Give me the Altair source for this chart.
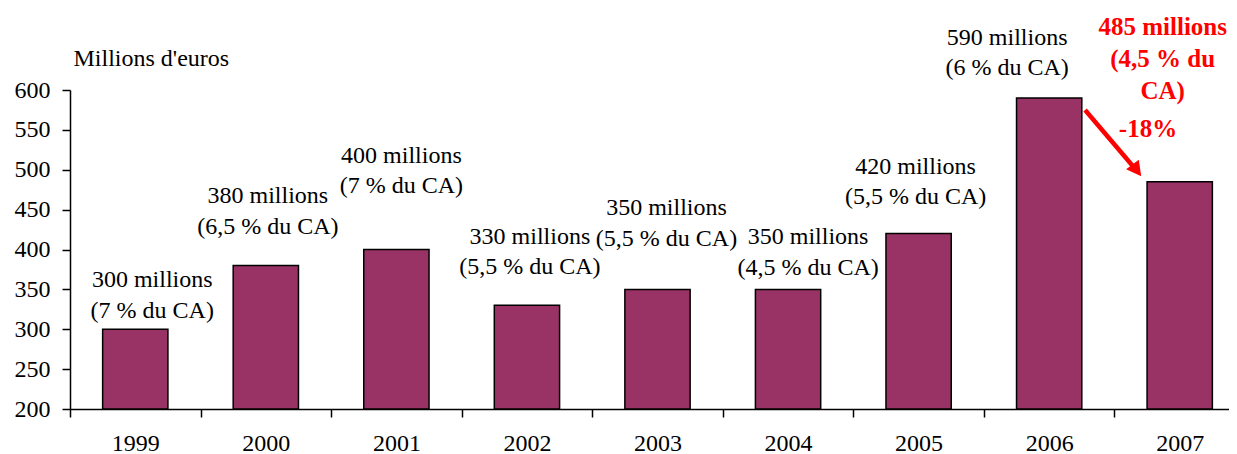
import altair as alt
import pandas as pd

FONT = "Liberation Serif"

years = ["1999", "2000", "2001", "2002", "2003", "2004", "2005", "2006", "2007"]
values = [300, 380, 400, 330, 350, 350, 420, 590, 485]
share = ["7", "6,5", "7", "5,5", "5,5", "4,5", "5,5", "6", "4,5"]
y_ticks = [200, 250, 300, 350, 400, 450, 500, 550, 600]

# label placement: pixel offset of the first text line from the top-centre of its bar
label_dx = [17, 2, 5, 3, 9, 20, -3, -42, -17]
label_dy = [-49, -69, -94, -68.5, -81, -52, -67, -60, -155]

# arrow 2006 -> 2007 and its "-18%" note, in (category index, value) units
arrow_from = [7.775, 575]
arrow_to = [8.16, 501]
arrow_tip = [8.205, 492]
growth_at = [8.257, 551]

PLOT_W, PLOT_H = 1175, 319
n = len(years)
step = PLOT_W / n
per_px = (y_ticks[-1] - y_ticks[0]) / PLOT_H

labels = []
for i, (v, s) in enumerate(zip(values, share)):
    if i == n - 1:
        labels.append(f"{v} millions\n({s} % du\nCA)")
    else:
        labels.append(f"{v} millions\n({s} % du CA)")

df = pd.DataFrame({
    "year": years,
    "value": values,
    "label": labels,
    "lx": [i + 0.5 + dx / step for i, dx in enumerate(label_dx)],
    "ly": [v - dy * per_px for v, dy in zip(values, label_dy)],
    "last": [i == n - 1 for i in range(n)],
})

growth = round((values[-1] - values[-2]) / values[-2] * 100)
df_growth = pd.DataFrame({"lx": [growth_at[0]], "ly": [growth_at[1]], "t": [f"{growth}%"]})
df_arrow = pd.DataFrame({"lx": [arrow_from[0]], "lx2": [arrow_to[0]],
                         "ly": [arrow_from[1]], "ly2": [arrow_to[1]]})
df_tip = pd.DataFrame({"lx": [arrow_tip[0]], "ly": [arrow_tip[1]]})

x_scale = alt.Scale(type="band", paddingInner=0, paddingOuter=0)
y_scale = alt.Scale(domain=[y_ticks[0], y_ticks[-1]], nice=False, zero=False)
q_scale = alt.Scale(domain=[0, n], nice=False, zero=False)

x_axis = alt.Axis(labelAngle=0, tickBand="extent", tickSize=8, labelPadding=14,
                  labelFont=FONT, labelFontSize=24, labelColor="black",
                  domainColor="black", tickColor="black", domainWidth=1.5, tickWidth=1.5,
                  title=None, grid=False)
y_axis = alt.Axis(values=y_ticks, title="Millions d'euros", titleAngle=0, titleAlign="left",
                  titleX=3, titleY=-32, titleBaseline="middle", titleFont=FONT,
                  titleFontSize=24, titleFontWeight="normal", titleColor="black",
                  labelFont=FONT, labelFontSize=24, labelColor="black",
                  tickSize=8, labelPadding=12, domainColor="black", tickColor="black",
                  domainWidth=1.5, tickWidth=1.5, grid=False)


def Y(field):
    return alt.Y(field, scale=y_scale, axis=y_axis)


def QX(field="lx:Q"):
    return alt.X(field, scale=q_scale, axis=None)


bars = alt.Chart(df).mark_bar(
    width=alt.RelativeBandSize(0.5), color="#993366", stroke="black", strokeWidth=1.5
).encode(
    x=alt.X("year:N", sort=years, scale=x_scale, axis=x_axis),
    y=Y("value:Q"),
    y2=alt.datum(y_ticks[0]),
)

value_labels = alt.Chart(df).transform_filter("!datum.last").mark_text(
    font=FONT, fontSize=24, lineBreak="\n", lineHeight=30.5, baseline="middle",
    align="center", color="black"
).encode(x=QX(), y=Y("ly:Q"), text="label:N")

last_label = alt.Chart(df).transform_filter("datum.last").mark_text(
    font=FONT, fontSize=25, fontWeight="bold", lineBreak="\n", lineHeight=32,
    baseline="middle", align="center", color="red"
).encode(x=QX(), y=Y("ly:Q"), text="label:N")

arrow = alt.Chart(df_arrow).mark_rule(color="red", strokeWidth=4.5).encode(
    x=QX(), x2="lx2:Q", y=Y("ly:Q"), y2="ly2:Q",
)

tip = alt.Chart(df_tip).mark_point(
    shape="M0,0 L-0.6,-1.1 L0.6,-1.1 Z", size=700, angle=323,
    filled=True, color="red", opacity=1, strokeWidth=0
).encode(x=QX(), y=Y("ly:Q"))

growth_text = alt.Chart(df_growth).mark_text(
    font=FONT, fontSize=25, fontWeight="bold", color="red", baseline="middle", align="center"
).encode(x=QX(), y=Y("ly:Q"), text="t:N")

annotations = alt.layer(value_labels, last_label, arrow, tip, growth_text)

chart = alt.layer(bars, annotations).resolve_scale(
    x="independent"
).properties(
    width=PLOT_W, height=PLOT_H,
    padding={"left": 62, "top": 82, "right": -16, "bottom": 48},
    autosize=alt.AutoSizeParams(type="none"),
    background="white",
).configure_view(stroke=None)

chart.save("out.html", embed_options={"renderer": "svg", "actions": False})
